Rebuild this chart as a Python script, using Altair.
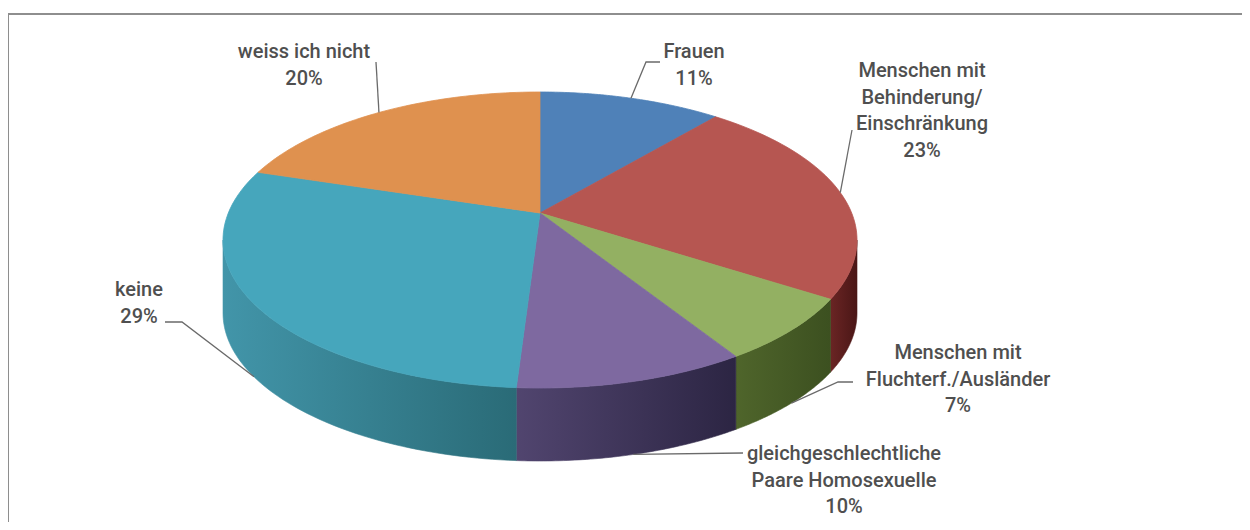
import altair as alt
import pandas as pd

# ---------------- data ----------------
categories = [
    "Frauen",
    "Menschen mit Behinderung/Einschränkung",
    "Menschen mit Fluchterf./Ausländer",
    "gleichgeschlechtliche Paare Homosexuelle",
    "keine",
    "weiss ich nicht",
]
values = [11, 23, 7, 10, 29, 20]
label_text = [
    "Frauen",
    "Menschen mit\nBehinderung/\nEinschränkung",
    "Menschen mit\nFluchterf./Ausländer",
    "gleichgeschlechtliche\nPaare Homosexuelle",
    "keine",
    "weiss ich nicht",
]

# ---------------- layout (label placement, image pixels) ----------------
label_x = [694, 922, 958, 844, 139, 304]
label_y = [52, 71, 353, 454, 290, 52]
elbow_x = [646, 852, 838, 743, 182, 376]
elbow_y = [62, 130, 382, 453, 322, 62]
end_x = [660, 852, 853, 743, 165, 376]
end_y = [62, 130, 382, 453, 322, 62]

# ---------------- styles ----------------
top_colors = ["#4F81B8", "#B65651", "#93B062", "#7E69A0", "#46A6BC", "#DF914F"]
side_colors = [
    ("#3E6290", "#2E4A6E"),
    ("#6A2524", "#4A1616"),
    ("#4F652B", "#3C5020"),
    ("#51456F", "#2C2543"),
    ("#4295A9", "#2A6B77"),
    ("#B06E35", "#8A5225"),
]

# projection of the 3-D pie
CX, CY, A, B = 540, 240, 317, 148   # top ellipse
VX, VY = 540, 213                   # apex of the slices
D = 73                              # depth of the pie
K = 0.84                            # perspective factor
N = 60                              # points per arc

df = pd.DataFrame({
    "cat": categories,
    "value": values,
    "ord": list(range(len(values))),
    "name": label_text,
    "lx": label_x, "ly": label_y,
    "ex": elbow_x, "ey": elbow_y,
    "tx": end_x, "ty": end_y,
})


def proj(a):
    return f"2*atan2({K}*sin(({a})/2), cos(({a})/2))"


def prep(ch):
    return (
        ch.transform_window(cum="sum(value)", sort=[alt.SortField("ord")], frame=[None, 0])
        .transform_joinaggregate(total="sum(value)")
        .transform_calculate(
            a0="2*PI*(datum.cum-datum.value)/datum.total",
            a1="2*PI*datum.cum/datum.total",
        )
        .transform_calculate(
            am="(datum.a0+datum.a1)/2",
            p0=proj("datum.a0"),
            p1=proj("datum.a1"),
        )
        .transform_calculate(pm=proj("datum.am"))
    )


xs = alt.X("px:Q", scale=alt.Scale(domain=[8, 1242], nice=False, zero=False), axis=None)
ys = alt.Y("py:Q", scale=alt.Scale(domain=[8, 522], nice=False, zero=False, reverse=True), axis=None)

base = alt.Chart(df)
layers = []

# side faces (front half only)
for i, cat in enumerate(categories):
    c0, c1 = side_colors[i]
    grad = alt.LinearGradient(
        gradient="linear",
        stops=[alt.GradientStop(color=c0, offset=0), alt.GradientStop(color=c1, offset=1)],
        x1=0, x2=1, y1=0, y2=0,
    )
    side = (
        prep(base)
        .transform_filter(alt.datum.ord == i)
        .transform_calculate(s0="max(datum.p0, PI/2)", s1="min(datum.p1, 3*PI/2)")
        .transform_filter("datum.s1 > datum.s0")
        .transform_calculate(idx=f"sequence(0, {2 * N + 3})")
        .transform_flatten(["idx"])
        .transform_calculate(
            j=f"datum.idx <= {N} ? datum.idx : (datum.idx <= {2 * N + 1} ? {2 * N + 1} - datum.idx : 0)",
            top=f"datum.idx <= {N} || datum.idx == {2 * N + 2}",
        )
        .transform_calculate(p=f"datum.s0 + (datum.s1-datum.s0)*datum.j/{N}")
        .transform_calculate(
            px=f"{CX} + {A}*sin(datum.p)",
            py=f"{CY} - {B}*cos(datum.p) + (datum.top ? 0 : {D})",
        )
        .mark_line(fill=grad, stroke=grad, strokeWidth=0.6, interpolate="linear")
        .encode(x=xs, y=ys, order=alt.Order("idx:Q"))
    )
    layers.append(side)

# top faces
for i, cat in enumerate(categories):
    col = top_colors[i]
    top = (
        prep(base)
        .transform_filter(alt.datum.ord == i)
        .transform_calculate(idx=f"sequence(0, {N + 3})")
        .transform_flatten(["idx"])
        .transform_calculate(
            t=f"clamp((datum.idx-1)/{N}, 0, 1)",
            apex=f"datum.idx == 0 || datum.idx == {N + 2}",
        )
        .transform_calculate(p="datum.p0 + (datum.p1-datum.p0)*datum.t")
        .transform_calculate(
            px=f"datum.apex ? {VX} : {CX} + {A}*sin(datum.p)",
            py=f"datum.apex ? {VY} : {CY} - {B}*cos(datum.p)",
        )
        .mark_line(fill=col, stroke=col, strokeWidth=0.8, interpolate="linear")
        .encode(x=xs, y=ys, order=alt.Order("idx:Q"))
    )
    layers.append(top)

# leader lines
leaders = (
    prep(base)
    .transform_calculate(
        sx=f"{CX} + {A}*sin(datum.pm)",
        sy=f"{CY} - {B}*cos(datum.pm) + ((datum.pm > PI/2 && datum.pm < 3*PI/2) ? {D} : 0)",
    )
    .transform_calculate(idx="sequence(0, 3)")
    .transform_flatten(["idx"])
    .transform_calculate(
        px="datum.idx == 0 ? datum.sx : (datum.idx == 1 ? datum.ex : datum.tx)",
        py="datum.idx == 0 ? datum.sy : (datum.idx == 1 ? datum.ey : datum.ty)",
    )
    .mark_line(color="#6a6a6a", strokeWidth=1.3)
    .encode(x=xs, y=ys, detail="cat:N", order=alt.Order("idx:Q"))
)
layers.append(leaders)

# labels
labels = (
    base.transform_calculate(lbl="datum.name + '\\n' + datum.value + '%'",
                             px="datum.lx", py="datum.ly")
    .mark_text(font="Roboto", fontSize=20, fontWeight=500, color="#4f4f4f", lineBreak="\n",
               lineHeight=26.5, align="center", baseline="middle")
    .encode(x=xs, y=ys, text="lbl:N")
)
layers.append(labels)

# frame
frame_top = alt.Chart(df).mark_rule(color="#8e8e8e", strokeWidth=2).encode(
    x=alt.value(0), x2=alt.value(1242), y=alt.value(6))
frame_left = alt.Chart(df).mark_rule(color="#8e8e8e", strokeWidth=2).encode(
    x=alt.value(0), y=alt.value(6), y2=alt.value(514))
layers += [frame_top, frame_left]

chart = (
    alt.layer(*layers)
    .properties(width=1234, height=514, padding=0, autosize="none", background="white")
    .configure_view(stroke=None)
)

chart.save("out.html", embed_options={"renderer": "svg", "actions": False})
